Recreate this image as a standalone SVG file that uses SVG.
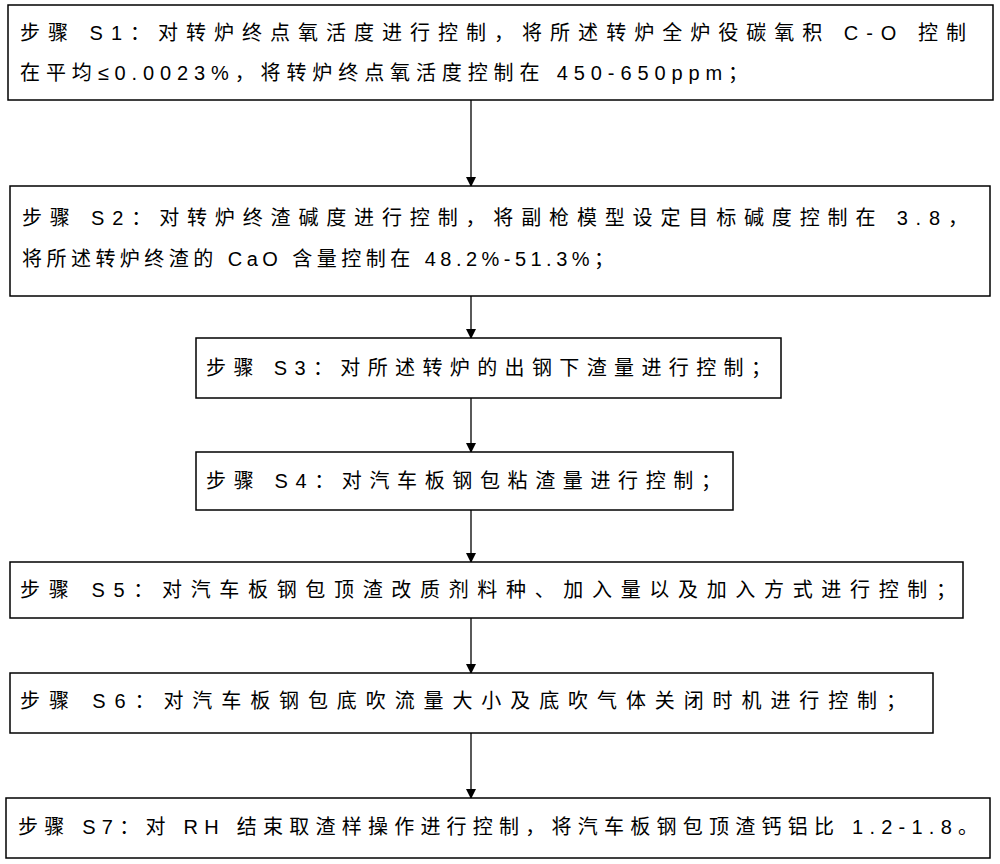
<svg xmlns="http://www.w3.org/2000/svg" width="1000" height="864" viewBox="0 0 1000 864">
<style>
.b{fill:#fff;stroke:#000;stroke-width:1.5}
.t{font-family:"Liberation Sans","Noto Sans CJK SC",sans-serif;font-size:20px;fill:#000}
.c{stroke:#000;stroke-width:1.3;fill:none}
</style>
<defs><marker id="a" markerWidth="10" markerHeight="10" refX="9" refY="5" orient="auto" markerUnits="userSpaceOnUse"><path d="M0,0L10,5L0,10z" fill="#000"/></marker></defs>
<rect width="1000" height="864" fill="#fff"/>
<g id="connectors">
<line class="c" x1="471" y1="100" x2="471" y2="186" marker-end="url(#a)"/>
<line class="c" x1="471" y1="296" x2="471" y2="338" marker-end="url(#a)"/>
<line class="c" x1="471" y1="398" x2="471" y2="452" marker-end="url(#a)"/>
<line class="c" x1="471" y1="510" x2="471" y2="562" marker-end="url(#a)"/>
<line class="c" x1="471" y1="618" x2="471" y2="673" marker-end="url(#a)"/>
<line class="c" x1="471" y1="733" x2="471" y2="798" marker-end="url(#a)"/>
</g>
<g id="s1"><rect class="b" x="8" y="5" width="985" height="95"/>
<text class="t" x="20" y="40" textLength="946" lengthAdjust="spacing">步骤 S1：对转炉终点氧活度进行控制，将所述转炉全炉役碳氧积 C-O 控制</text>
<text class="t" x="20" y="80" textLength="728" lengthAdjust="spacing">在平均≤0.0023%，将转炉终点氧活度控制在 450-650ppm；</text></g>
<g id="s2"><rect class="b" x="10" y="186" width="980" height="110"/>
<text class="t" x="22" y="225" textLength="946" lengthAdjust="spacing">步骤 S2：对转炉终渣碱度进行控制，将副枪模型设定目标碱度控制在 3.8，</text>
<text class="t" x="22" y="266" textLength="592" lengthAdjust="spacing">将所述转炉终渣的 CaO 含量控制在 48.2%-51.3%；</text></g>
<g id="s3"><rect class="b" x="196" y="338" width="585" height="60"/>
<text class="t" x="206" y="375" textLength="565" lengthAdjust="spacing">步骤 S3：对所述转炉的出钢下渣量进行控制；</text></g>
<g id="s4"><rect class="b" x="196" y="452" width="537" height="58"/>
<text class="t" x="206" y="488" textLength="515" lengthAdjust="spacing">步骤 S4：对汽车板钢包粘渣量进行控制；</text></g>
<g id="s5"><rect class="b" x="10" y="562" width="953" height="56"/>
<text class="t" x="20" y="597" textLength="936" lengthAdjust="spacing">步骤 S5：对汽车板钢包顶渣改质剂料种、加入量以及加入方式进行控制；</text></g>
<g id="s6"><rect class="b" x="10" y="673" width="923" height="60"/>
<text class="t" x="20" y="708" textLength="886" lengthAdjust="spacing">步骤 S6：对汽车板钢包底吹流量大小及底吹气体关闭时机进行控制；</text></g>
<g id="s7"><rect class="b" x="6" y="798" width="984" height="60"/>
<text class="t" x="18" y="834" textLength="960" lengthAdjust="spacing">步骤 S7：对 RH 结束取渣样操作进行控制，将汽车板钢包顶渣钙铝比 1.2-1.8。</text></g>
</svg>
